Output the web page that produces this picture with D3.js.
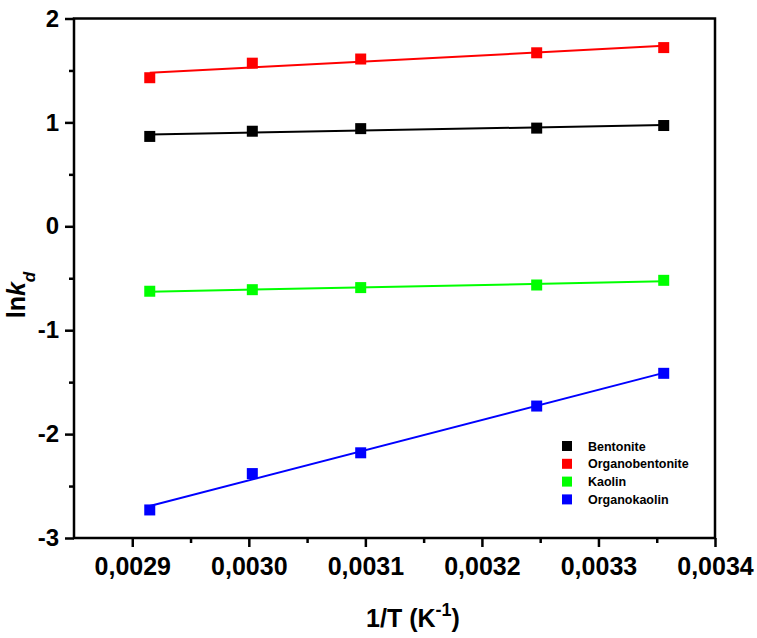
<!DOCTYPE html>
<html>
<head>
<meta charset="utf-8">
<script src="https://cdn.jsdelivr.net/npm/d3@7"></script>
<style>
  body { margin: 0; background: #fff; }
  text { font-family: "Liberation Sans", Arial, sans-serif; font-weight: bold; fill: #000; }
</style>
</head>
<body>
<script>
// Данные (1/T и ln kd для каждого образца)
const invT = [0.002915, 0.003003, 0.003096, 0.003247, 0.003356];
const seriesNames = ["Bentonite", "Organobentonite", "Kaolin", "Organokaolin"];
const seriesColors = ["#000000", "#ff0000", "#00ff00", "#0000ff"];
const bentonite = [0.865, 0.915, 0.94, 0.945, 0.97];
const organobentonite = [1.43, 1.57, 1.61, 1.67, 1.72];
const kaolin = [-0.625, -0.61, -0.59, -0.565, -0.52];
const organokaolin = [-2.73, -2.38, -2.18, -1.73, -1.415];
const xTicks = [0.0029, 0.0030, 0.0031, 0.0032, 0.0033, 0.0034];
const yTicks = [-3, -2, -1, 0, 1, 2];

const seriesValues = [bentonite, organobentonite, kaolin, organokaolin];

const width = 757, height = 638;
const pLeft = 74, pRight = 715, pTop = 18.5, pBottom = 538;

const svg = d3.select("body")
    .append("svg")
    .attr("width", width)
    .attr("height", height);

const x = d3.scaleLinear().domain([0.00285, 0.0034]).range([pLeft, pRight]);
const y = d3.scaleLinear().domain([-3, 2]).range([pBottom, pTop]);

const commaLocale = d3.formatLocale({decimal: ",", thousands: " ", grouping: [3], currency: ["", ""], minus: "-"});
const fmtX = commaLocale.format(".4f");
const fmtY = commaLocale.format("d");

// Оси: основные и промежуточные деления
const xMinor = d3.range(0.00295, 0.0034, 0.0001);
const yMinor = d3.range(-2.5, 2, 1);

svg.append("g")
    .attr("transform", `translate(0,${pBottom})`)
    .call(d3.axisBottom(x).tickValues(xMinor).tickSize(5).tickFormat(""))
    .call(g => g.select(".domain").remove())
    .call(g => g.selectAll("line").attr("stroke-width", 2.5));

svg.append("g")
    .attr("transform", `translate(0,${pBottom})`)
    .call(d3.axisBottom(x).tickValues(xTicks).tickSize(9).tickPadding(10).tickFormat(fmtX))
    .call(g => g.select(".domain").remove())
    .call(g => g.selectAll("line").attr("stroke-width", 2.5))
    .call(g => g.selectAll("text").style("font-size", "25px"));

svg.append("g")
    .attr("transform", `translate(${pLeft},0)`)
    .call(d3.axisLeft(y).tickValues(yMinor).tickSize(5).tickFormat(""))
    .call(g => g.select(".domain").remove())
    .call(g => g.selectAll("line").attr("stroke-width", 2.5));

svg.append("g")
    .attr("transform", `translate(${pLeft},0)`)
    .call(d3.axisLeft(y).tickValues(yTicks).tickSize(9).tickPadding(6).tickFormat(fmtY))
    .call(g => g.select(".domain").remove())
    .call(g => g.selectAll("line").attr("stroke-width", 2.5))
    .call(g => g.selectAll("text").style("font-size", "24px"));

// рамка графика
svg.append("rect")
    .attr("x", pLeft)
    .attr("y", pTop)
    .attr("width", pRight - pLeft)
    .attr("height", pBottom - pTop)
    .attr("fill", "none")
    .attr("stroke", "#000")
    .attr("stroke-width", 2.5);

// линейная аппроксимация (МНК)
function fit(vals) {
    const mx = d3.mean(invT), my = d3.mean(vals);
    let sxy = 0, sxx = 0;
    invT.forEach((t, i) => { sxy += (t - mx) * (vals[i] - my); sxx += (t - mx) * (t - mx); });
    const k = sxy / sxx;
    return [invT[0], invT[invT.length - 1]].map(t => ({t: t, v: my + k * (t - mx)}));
}

const line = d3.line().x(d => x(d.t)).y(d => y(d.v));

seriesValues.forEach((vals, si) => {
    svg.append("path")
        .datum(fit(vals))
        .attr("d", line)
        .attr("fill", "none")
        .attr("stroke", seriesColors[si])
        .attr("stroke-width", 2);

    svg.append("g")
        .selectAll("rect")
        .data(vals)
        .enter()
        .append("rect")
        .attr("x", (d, i) => x(invT[i]) - 5.5)
        .attr("y", d => y(d) - 5.5)
        .attr("width", 11)
        .attr("height", 11)
        .attr("fill", seriesColors[si]);
});

// легенда
const legend = svg.append("g").attr("transform", "translate(562,446)");
const rows = legend.selectAll("g")
    .data(seriesNames)
    .enter()
    .append("g")
    .attr("transform", (d, i) => `translate(0,${i * 17.8})`);
rows.append("rect")
    .attr("x", 0).attr("y", -5)
    .attr("width", 10).attr("height", 10)
    .attr("fill", (d, i) => seriesColors[i]);
rows.append("text")
    .attr("x", 26)
    .attr("dy", "0.36em")
    .style("font-size", "12.5px")
    .text(d => d);

// подписи осей
const xt = svg.append("text")
    .attr("x", 413)
    .attr("y", 627)
    .attr("text-anchor", "middle")
    .style("font-size", "25px");
xt.append("tspan").text("1/T (K");
xt.append("tspan").style("font-size", "18px").attr("dy", "-11").text("-1");
xt.append("tspan").attr("dy", "11").text(")");

const yt = svg.append("text")
    .attr("transform", "translate(25,295) rotate(-90)")
    .attr("text-anchor", "middle")
    .style("font-size", "25px");
yt.append("tspan").text("ln");
yt.append("tspan").style("font-style", "italic").text("k");
yt.append("tspan").style("font-style", "italic").style("font-size", "17px").attr("dy", "10").text("d");
</script>
</body>
</html>
